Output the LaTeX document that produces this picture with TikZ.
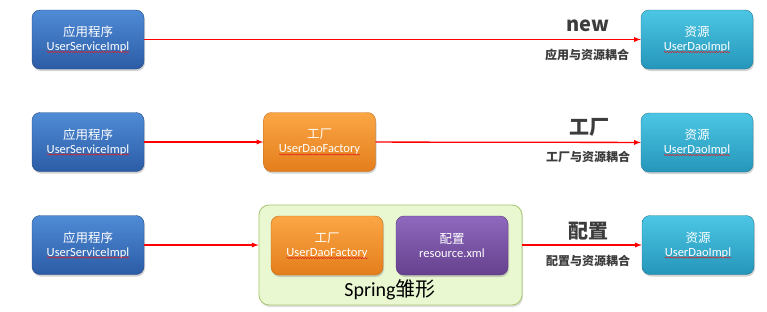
\documentclass[tikz,border=0pt]{standalone}
\usepackage{fontspec}
\usetikzlibrary{shadows, decorations.pathmorphing}
\setmainfont{Carlito}
\newfontfamily\cjk{Noto Sans CJK SC}
\definecolor{apptop}{HTML}{4F8BD6}
\definecolor{appbot}{HTML}{2C5CA6}
\definecolor{restop}{HTML}{4CC6E4}
\definecolor{resbot}{HTML}{2596BA}
\definecolor{factop}{HTML}{FBA645}
\definecolor{facbot}{HTML}{E47E1C}
\definecolor{cfgtop}{HTML}{8F69BE}
\definecolor{cfgbot}{HTML}{65418E}
\definecolor{springfill}{HTML}{EAF8D2}
\definecolor{springline}{HTML}{A5C46C}
\definecolor{labelgray}{HTML}{3C3C3C}
\definecolor{wavered}{HTML}{E02020}
% widths of the spell-checked names, for the red waves
\newlength\svcw
\newlength\daow
\newlength\facw
\tikzset{
  box/.style={rounded corners=8pt, minimum width=112pt, minimum height=59pt,
              align=center, text=white, inner sep=0pt,
              font=\fontsize{12.5}{14}\selectfont,
              drop shadow={opacity=0.35, shadow xshift=1pt, shadow yshift=-2pt}},
  appbox/.style={box, top color=apptop, bottom color=appbot, draw=appbot!80!black},
  resbox/.style={box, top color=restop, bottom color=resbot, draw=resbot!80!black},
  facbox/.style={box, top color=factop, bottom color=facbot, draw=facbot!85!black},
  cfgbox/.style={box, top color=cfgtop, bottom color=cfgbot, draw=cfgbot!85!black},
  conn/.style={->, >=latex, red, line width=1.3pt},
  wavy/.style={wavered, line width=0.5pt, decorate,
               decoration={snake, amplitude=0.6pt, segment length=2.6pt}},
  biglabel/.style={text=labelgray, font=\cjk\bfseries\fontsize{20}{22}\selectfont},
  smalllabel/.style={text=labelgray, font=\cjk\bfseries\fontsize{12}{14}\selectfont},
}
\newcommand\wave[2]{\draw[wavy] ([xshift={-0.5#2}, yshift=-12.5pt]#1.center) -- ++(#2, 0);}
\begin{document}
\settowidth\svcw{\fontsize{12.5}{14}\selectfont UserServiceImpl}
\settowidth\daow{\fontsize{12.5}{14}\selectfont UserDaoImpl}
\settowidth\facw{\fontsize{12.5}{14}\selectfont UserDaoFactory}
\begin{tikzpicture}[x=1pt, y=-1pt]
  \useasboundingbox (0,0) rectangle (767,311);
  % row 1: new
  \node[appbox] (app1) at (88, 39.5) {{\cjk 应用程序}\\UserServiceImpl};
  \node[resbox] (res1) at (697, 39.5) {{\cjk 资源}\\UserDaoImpl};
  \draw[conn] (app1) -- (res1);
  \node[biglabel] (new1) at (588, 26) {new};
  \node[smalllabel] (couple1) at (587, 55) {应用与资源耦合};
  % row 2: factory
  \node[appbox] (app2) at (88, 142) {{\cjk 应用程序}\\UserServiceImpl};
  \node[facbox] (fac2) at (319.5, 142) {{\cjk 工厂}\\UserDaoFactory};
  \node[resbox] (res2) at (697, 142.5) {{\cjk 资源}\\UserDaoImpl};
  \draw[conn] (app2) -- (fac2);
  \draw[conn] (fac2) -- (res2);
  \node[biglabel] (fac2lab) at (589, 127) {工厂};
  \node[smalllabel] (couple2) at (588, 157) {工厂与资源耦合};
  % row 3: spring
  \node[appbox] (app3) at (88, 245) {{\cjk 应用程序}\\UserServiceImpl};
  \node[rounded corners=10pt, draw=springline, fill=springfill, line width=0.8pt,
        minimum width=263pt, minimum height=100pt,
        drop shadow={opacity=0.25, shadow xshift=1pt, shadow yshift=-2pt}] (spring) at (390.5, 255) {};
  \node[facbox] (fac3) at (327, 245.5) {{\cjk 工厂}\\UserDaoFactory};
  \node[cfgbox] (cfg3) at (452, 245.5) {{\cjk 配置}\\resource.xml};
  \node[font=\fontsize{20}{22}\selectfont] (springlab) at (390, 290) {Spring{\cjk 雏形}};
  \node[resbox] (res3) at (698, 245) {{\cjk 资源}\\UserDaoImpl};
  \draw[conn] (app3) -- (app3 -| spring.west);
  \draw[conn] (spring.east |- res3) -- (res3);
  \node[biglabel] (cfg3lab) at (588, 231) {配置};
  \node[smalllabel] (couple3) at (588, 261) {配置与资源耦合};
  % spell-check waves
  \wave{app1}{\svcw} \wave{app2}{\svcw} \wave{app3}{\svcw}
  \wave{res1}{\daow} \wave{res2}{\daow} \wave{res3}{\daow}
  \wave{fac2}{\facw} \wave{fac3}{\facw}
\end{tikzpicture}
\end{document}
